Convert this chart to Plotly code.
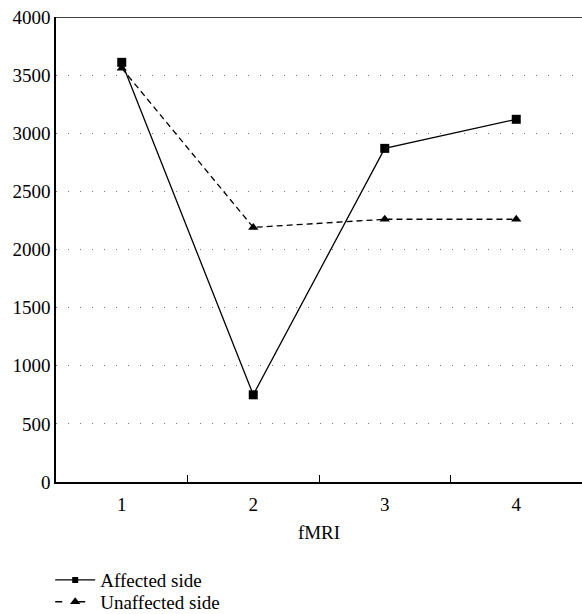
import plotly.graph_objects as go

# fMRI sessions and measured values per side
sessions = ["1", "2", "3", "4"]
affected = [3610, 750, 2870, 3120]
unaffected = [3560, 2190, 2260, 2260]
y_ticks = [0, 500, 1000, 1500, 2000, 2500, 3000, 3500, 4000]

FONT = "Liberation Serif"
FS = 19

# name, values, plot dash, legend dash, marker, legend marker size, legend id
series = [
    ("Affected side", affected, "solid", "solid", "square", 6, "legend"),
    ("Unaffected side", unaffected, "6px,4px", "7px,16px", "triangle-up", 9, "legend2"),
]

fig = go.Figure()
for name, values, dash, leg_dash, symbol, leg_size, leg in series:
    # plotted line with full-size markers
    fig.add_trace(go.Scatter(
        x=sessions, y=values, name=name, showlegend=False,
        mode="lines+markers",
        line=dict(color="black", width=1.3, dash=dash),
        marker=dict(symbol=symbol, size=9, color="black"),
    ))
    # legend entry with a smaller marker
    fig.add_trace(go.Scatter(
        x=[None], y=[None], name=name, showlegend=True, legend=leg,
        mode="lines+markers",
        line=dict(color="black", width=1.3, dash=leg_dash),
        marker=dict(symbol=symbol, size=leg_size, color="black"),
    ))

# top frame line
fig.add_shape(type="line", xref="paper", yref="y", x0=0, x1=1, y0=4000, y1=4000,
              line=dict(color="black", width=1.5))

legend_style = dict(x=-0.011, xanchor="left", yanchor="top",
                    font=dict(family=FONT, size=FS), itemwidth=40,
                    bgcolor="rgba(0,0,0,0)")

fig.update_layout(
    width=582, height=614,
    margin=dict(l=56, r=0, t=17, b=132, autoexpand=False),
    paper_bgcolor="white", plot_bgcolor="white",
    font=dict(family=FONT, size=FS, color="black"),
    showlegend=True,
    legend=dict(y=-0.17, **legend_style),
    legend2=dict(y=-0.217, **legend_style),
    xaxis=dict(
        type="category", tickson="boundaries", ticks="inside", ticklen=7,
        tickcolor="black", tickwidth=1,
        showline=True, linecolor="black", linewidth=1.5,
        showgrid=False, zeroline=False,
        range=[-0.5, 3.5],
        ticklabelstandoff=4,
        title=dict(text="fMRI", standoff=12, font=dict(family=FONT, size=FS)),
        tickfont=dict(family=FONT, size=FS),
    ),
    yaxis=dict(
        range=[0, 4000], tickvals=y_ticks, ticks="",
        showline=True, linecolor="black", linewidth=1.5,
        showgrid=True, gridcolor="#777777", gridwidth=1, griddash="1px,11px",
        zeroline=False,
        tickfont=dict(family=FONT, size=FS),
    ),
)

fig.write_html("out.html")
